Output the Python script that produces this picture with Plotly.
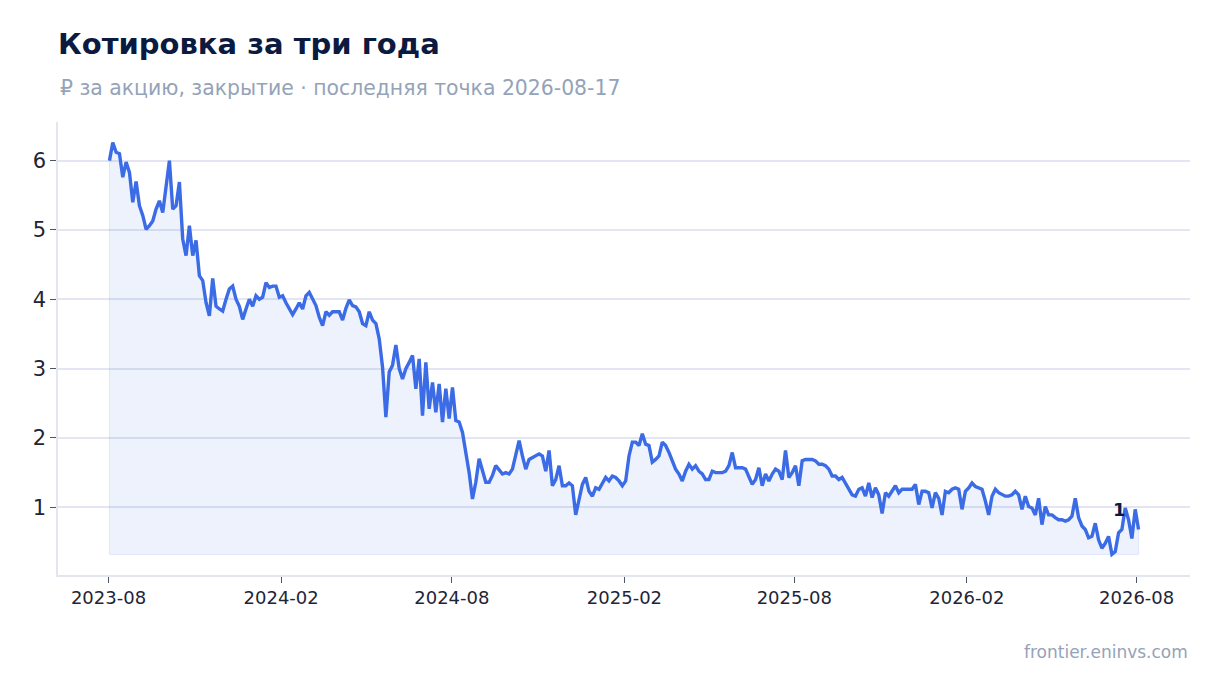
import pandas as pd
import plotly.graph_objects as go

# closing price, evenly spaced readings (~3.5 days apart) taken off the chart
close_2023 = [
    6.00, 6.26, 6.12, 6.10, 5.76, 5.98, 5.83, 5.40, 5.70, 5.35,
    5.21, 5.01, 5.06, 5.13, 5.30, 5.42, 5.25, 5.59, 6.00, 5.30,
    5.35, 5.69, 4.87, 4.63, 5.06, 4.63, 4.85, 4.34, 4.27, 3.95,
    3.76, 4.30, 3.90, 3.86, 3.83, 4.00, 4.15, 4.19, 4.00, 3.90,
    3.71, 3.86, 4.00, 3.90, 4.05, 4.00, 4.03, 4.24, 4.17, 4.19,
    4.19, 4.03, 4.05, 3.95, 3.86, 3.78, 3.86, 3.95, 3.86, 4.05,
]
close_2024 = [
    4.10, 3.99, 3.91, 3.74, 3.62, 3.82, 3.77, 3.82, 3.82, 3.82,
    3.70, 3.87, 3.99, 3.91, 3.89, 3.82, 3.65, 3.62, 3.82, 3.70,
    3.65, 3.43, 3.02, 2.30, 2.95, 3.05, 3.34, 3.00, 2.85, 3.00,
    3.09, 3.19, 2.71, 3.14, 2.32, 3.09, 2.42, 2.80, 2.37, 2.78,
    2.23, 2.71, 2.28, 2.73, 2.25, 2.23, 2.08, 1.79, 1.50, 1.12,
    1.36, 1.70, 1.55, 1.36, 1.36, 1.46, 1.60, 1.53, 1.48, 1.50,
    1.48, 1.55, 1.74, 1.96, 1.74, 1.55, 1.69, 1.72, 1.74, 1.77,
    1.74, 1.52, 1.82, 1.31, 1.40, 1.60, 1.31, 1.31, 1.35, 1.31,
    0.89, 1.14, 1.33, 1.43, 1.23, 1.16, 1.28, 1.26, 1.35, 1.43,
]
close_2025 = [
    1.38, 1.45, 1.43, 1.38, 1.31, 1.38, 1.74, 1.94, 1.94, 1.89,
    2.06, 1.91, 1.89, 1.65, 1.69, 1.74, 1.94, 1.89, 1.79, 1.67,
    1.55, 1.48, 1.38, 1.52, 1.62, 1.55, 1.60, 1.52, 1.48, 1.40,
    1.40, 1.52, 1.50, 1.50, 1.50, 1.52, 1.60, 1.79, 1.57, 1.57,
    1.57, 1.55, 1.45, 1.33, 1.40, 1.57, 1.31, 1.48, 1.38, 1.48,
    1.55, 1.52, 1.40, 1.82, 1.43, 1.50, 1.60, 1.31, 1.67, 1.69,
    1.69, 1.69, 1.67, 1.62, 1.62, 1.60, 1.55, 1.45, 1.45, 1.40,
    1.43, 1.35, 1.26, 1.18, 1.16, 1.26, 1.28, 1.16, 1.35, 1.14,
    1.28, 1.18, 0.91, 1.21, 1.16, 1.23, 1.31, 1.21, 1.26, 1.26,
]
close_2026 = [
    1.26, 1.26, 1.33, 1.04, 1.23, 1.23, 1.21, 0.99, 1.21, 1.13,
    0.89, 1.23, 1.21, 1.26, 1.28, 1.26, 0.97, 1.23, 1.28, 1.35,
    1.30, 1.28, 1.26, 1.09, 0.89, 1.16, 1.26, 1.21, 1.18, 1.16,
    1.16, 1.18, 1.23, 1.18, 0.97, 1.16, 1.01, 0.99, 0.89, 1.13,
    0.75, 1.01, 0.89, 0.89, 0.85, 0.82, 0.82, 0.80, 0.82, 0.87,
    1.13, 0.85, 0.73, 0.68, 0.56, 0.58, 0.77, 0.53, 0.41, 0.48,
    0.58, 0.32, 0.36, 0.63, 0.68, 0.99, 0.82, 0.55, 0.97, 0.68,
]
first_day = '2023-08-02'
last_day = '2026-08-03'

marker_dates = ['2026-07-14']
marker_values = [0.97]
marker_labels = ['1']

TITLE = 'Котировка за три года'
SUBTITLE = '₽ за акцию, закрытие · последняя точка 2026-08-17'
SOURCE = 'frontier.eninvs.com'

LINE = '#3b6ce6'
FONT = 'DejaVu Sans, Arial, sans-serif'

close = close_2023 + close_2024 + close_2025 + close_2026
dates = pd.date_range(first_day, last_day, periods=len(close))
base = min(close)
span_y = max(close) - base
span_x = dates[-1] - dates[0]

fig = go.Figure()
# shaded area under the line, closed down to the lowest close
fig.add_trace(go.Scatter(
    x=list(dates) + [dates[-1], dates[0], dates[0]],
    y=close + [base, base, close[0]],
    fill='toself', fillcolor='rgba(59,108,230,0.09)',
    line=dict(color='rgba(59,108,230,0.12)', width=1),
    mode='lines', hoverinfo='skip', showlegend=False,
))
fig.add_trace(go.Scatter(
    x=dates, y=close, mode='lines',
    line=dict(color=LINE, width=3.4),
    showlegend=False,
))

for d, v, t in zip(marker_dates, marker_values, marker_labels):
    fig.add_annotation(x=d, y=v, text=f'<b>{t}</b>', showarrow=False,
                       font=dict(size=18, color='#0b1a3f', family=FONT))

fig.update_layout(
    width=1220, height=693,
    paper_bgcolor='white', plot_bgcolor='white',
    margin=dict(l=50, r=38, t=114, b=126),
    font=dict(family=FONT, color='#1e2537'),
    title=dict(text=f'<b>{TITLE}</b>', x=0.041, xanchor='left', y=0.948, yanchor='middle',
               font=dict(size=29, color='#0b1a3f', family=FONT)),
)
fig.add_annotation(text=SUBTITLE, xref='paper', yref='paper', x=0, xanchor='left',
                   y=1.0, yshift=34, yanchor='middle', showarrow=False,
                   font=dict(size=20.4, color='#94a3b8', family=FONT))
fig.add_annotation(text=SOURCE, xref='paper', yref='paper', x=1, xanchor='right',
                   y=0, yshift=-77, yanchor='middle', showarrow=False,
                   font=dict(size=17, color='#94a3b8', family=FONT))

fig.update_xaxes(
    type='date', tickformat='%Y-%m', dtick='M6', tick0='2023-08-01',
    range=[dates[0] - 0.05 * span_x, dates[-1] + 0.05 * span_x],
    showgrid=False, showline=True, linecolor='#e3e6ee', linewidth=1.5,
    ticks='outside', ticklen=6, tickcolor='#4b5563',
    tickfont=dict(size=18, color='#1e2537'), zeroline=False,
)
fig.update_yaxes(
    range=[base - 0.05 * span_y, max(close) + 0.05 * span_y],
    dtick=1, showgrid=True, gridcolor='#e3e6f2', gridwidth=1.5,
    showline=True, linecolor='#e3e6ee', linewidth=1.5,
    ticks='outside', ticklen=6, tickcolor='#4b5563',
    tickfont=dict(size=21, color='#1e2537'), zeroline=False,
)

fig.write_html('out.html')
